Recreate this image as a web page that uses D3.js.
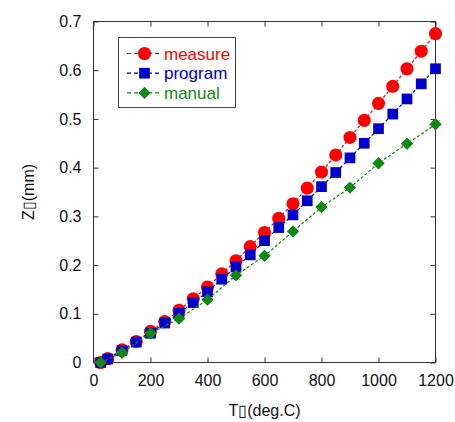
<!DOCTYPE html>
<html>
<head>
<meta charset="utf-8">
<script src="https://cdn.jsdelivr.net/npm/d3@7"></script>
<style>
  body { margin: 0; background: #fff; }
  text { font-family: "Liberation Sans", Arial, sans-serif; }
</style>
</head>
<body>
<svg id="chart"></svg>
<script>
const width = 455;
const height = 422;
const margin = {left: 93.5, right: 19.5, top: 21.5, bottom: 59.5};

// series data
const measureT = [25, 50, 100, 150, 200, 250, 300, 350, 400, 450, 500, 550, 600, 650, 700, 750, 800, 850, 900, 950, 1000, 1050, 1100, 1150, 1200];
const measureZ = [0, 0.008, 0.026, 0.043, 0.064, 0.084, 0.107, 0.131, 0.155, 0.182, 0.209, 0.238, 0.267, 0.296, 0.326, 0.358, 0.391, 0.426, 0.462, 0.497, 0.532, 0.567, 0.603, 0.639, 0.675];
const programT = measureT;
const programZ = [0, 0.007, 0.024, 0.042, 0.060, 0.081, 0.101, 0.123, 0.145, 0.171, 0.196, 0.221, 0.250, 0.277, 0.303, 0.332, 0.361, 0.390, 0.420, 0.450, 0.480, 0.510, 0.541, 0.572, 0.603];
const manualT = [25, 100, 200, 300, 400, 500, 600, 700, 800, 900, 1000, 1100, 1200];
const manualZ = [0, 0.020, 0.060, 0.090, 0.129, 0.179, 0.219, 0.269, 0.319, 0.359, 0.409, 0.449, 0.489];

const xTicks = [0, 200, 400, 600, 800, 1000, 1200];
const yTicks = [0, 0.1, 0.2, 0.3, 0.4, 0.5, 0.6, 0.7];

// diamond = square turned by 45 degrees
const series = [
  {name: 'measure', t: measureT, z: measureZ, color: '#ff0000', shape: d3.symbolCircle, size: 135, rot: 0},
  {name: 'program', t: programT, z: programZ, color: '#0000cc', shape: d3.symbolSquare, size: 115, rot: 0},
  {name: 'manual', t: manualT, z: manualZ, color: '#118811', shape: d3.symbolSquare, size: 76, rot: 45}
];

const svg = d3.select('#chart')
  .attr('width', width)
  .attr('height', height);

const x = d3.scaleLinear().domain([0, 1200]).range([margin.left, width - margin.right]);
const y = d3.scaleLinear().domain([0, 0.7]).range([height - margin.bottom, margin.top]);

const tickLen = 5;
const frameColor = '#333';

// frame
svg.append('rect')
  .attr('x', x(0)).attr('y', y(0.7))
  .attr('width', x(1200) - x(0)).attr('height', y(0) - y(0.7))
  .attr('fill', 'none').attr('stroke', frameColor).attr('stroke-width', 1);

// inward ticks on all four sides
const xAxisBottom = svg.append('g').attr('transform', `translate(0, ${y(0)})`)
  .call(d3.axisBottom(x).tickValues(xTicks).tickSizeInner(-tickLen).tickSizeOuter(0).tickPadding(12).tickFormat(d3.format('d')));
const xAxisTop = svg.append('g').attr('transform', `translate(0, ${y(0.7)})`)
  .call(d3.axisTop(x).tickValues(xTicks).tickSizeInner(-tickLen).tickSizeOuter(0).tickFormat(''));
const yAxisLeft = svg.append('g').attr('transform', `translate(${x(0)}, 0)`)
  .call(d3.axisLeft(y).tickValues(yTicks).tickSizeInner(-tickLen).tickSizeOuter(0).tickPadding(12).tickFormat(d => d === 0 ? '0' : d3.format('.1f')(d)));
const yAxisRight = svg.append('g').attr('transform', `translate(${x(1200)}, 0)`)
  .call(d3.axisRight(y).tickValues(yTicks).tickSizeInner(-tickLen).tickSizeOuter(0).tickFormat(''));

[xAxisBottom, xAxisTop, yAxisLeft, yAxisRight].forEach(g => {
  g.select('.domain').remove();
  g.selectAll('line').attr('stroke', frameColor);
  g.selectAll('text').attr('fill', '#111').style('font-size', '16px').style('font-family', '"Liberation Sans", Arial, sans-serif');
});

// axis titles
svg.append('text')
  .attr('x', (x(0) + x(1200)) / 2)
  .attr('y', 416)
  .attr('text-anchor', 'middle')
  .style('font-size', '16px')
  .attr('fill', '#111')
  .text('T\u25AF(deg.C)');

svg.append('text')
  .attr('transform', `translate(33.5, ${(y(0) + y(0.7)) / 2}) rotate(-90)`)
  .attr('text-anchor', 'middle')
  .style('font-size', '16px')
  .attr('fill', '#111')
  .text('Z\u25AF(mm)');

// lines and markers
const line = d3.line().x(d => x(d[0])).y(d => y(d[1]));

series.forEach(s => {
  const pts = s.t.map((t, i) => [t, s.z[i]]);
  svg.append('path')
    .datum(pts)
    .attr('d', line)
    .attr('fill', 'none')
    .attr('stroke', s.color)
    .attr('stroke-width', 1.2)
    .attr('stroke-dasharray', '3,2');
  svg.append('g').selectAll('path').data(pts).enter().append('path')
    .attr('transform', d => `translate(${x(d[0])}, ${y(d[1])}) rotate(${s.rot})`)
    .attr('d', d3.symbol().type(s.shape).size(s.size))
    .attr('fill', s.color);
});

// legend
const legend = svg.append('g');
legend.append('rect')
  .attr('x', 118.5).attr('y', 37.5)
  .attr('width', 117).attr('height', 70)
  .attr('fill', '#fff').attr('stroke', '#444').attr('stroke-width', 1);

series.forEach((s, i) => {
  const ly = 53.5 + i * 19.7;
  legend.append('line')
    .attr('x1', 127).attr('x2', 161)
    .attr('y1', ly).attr('y2', ly)
    .attr('stroke', s.color).attr('stroke-width', 1.2)
    .attr('stroke-dasharray', '4,3');
  legend.append('path')
    .attr('transform', `translate(144.5, ${ly}) rotate(${s.rot})`)
    .attr('d', d3.symbol().type(s.shape).size(s.size))
    .attr('fill', s.color);
  legend.append('text')
    .attr('x', 164).attr('y', ly + 6)
    .style('font-size', '17px')
    .attr('fill', s.color)
    .text(s.name);
});
</script>
</body>
</html>
